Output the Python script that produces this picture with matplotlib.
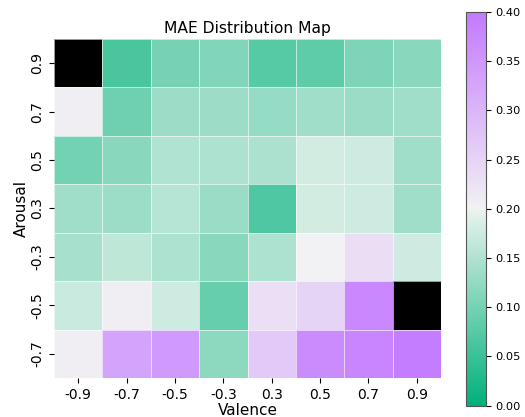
import numpy as np
import matplotlib
matplotlib.use("Agg")
import matplotlib.pyplot as plt
import seaborn as sns

valence = ["-0.9", "-0.7", "-0.5", "-0.3", "0.3", "0.5", "0.7", "0.9"]
arousal = ["0.9", "0.7", "0.5", "0.3", "-0.3", "-0.5", "-0.7"]

mae_09 = [np.nan, 0.064, 0.100, 0.109, 0.074, 0.081, 0.107, 0.116]
mae_07 = [0.206, 0.094, 0.134, 0.134, 0.128, 0.137, 0.131, 0.137]
mae_05 = [0.099, 0.117, 0.150, 0.148, 0.146, 0.179, 0.175, 0.137]
mae_03 = [0.137, 0.132, 0.156, 0.131, 0.068, 0.179, 0.175, 0.136]
mae_m03 = [0.143, 0.161, 0.147, 0.117, 0.147, 0.201, 0.232, 0.175]
mae_m05 = [0.171, 0.206, 0.174, 0.088, 0.230, 0.249, 0.375, np.nan]
mae_m07 = [0.207, 0.330, 0.344, 0.120, 0.267, 0.371, 0.381, 0.394]

data = np.array([mae_09, mae_07, mae_05, mae_03, mae_m03, mae_m05, mae_m07])

cmap = sns.diverging_palette(150, 285, s=100, l=64, as_cmap=True)
cmap.set_bad("black")

fig = plt.figure(figsize=(5.25, 4.17), dpi=100)
ax = fig.add_axes([54/525, 1 - 378/417, 387/525, 339/417])
cax = fig.add_axes([465.5/525, 1 - 405.5/417, 20.5/525, 393.5/417])

sns.heatmap(data, ax=ax, cbar_ax=cax, cmap=cmap, vmin=0, vmax=0.4,
            linewidths=0.5, linecolor=(1, 1, 1, 0.6),
            xticklabels=valence, yticklabels=arousal)
ax.set_title("MAE Distribution Map", fontsize=11.2, pad=4)
ax.set_xlabel("Valence", fontsize=11, labelpad=1)
ax.set_ylabel("Arousal", fontsize=11, labelpad=1)
ax.tick_params(axis="both", labelsize=10)
ax.set_yticklabels(arousal, rotation=90, va="center")
ax.set_xticklabels(valence, rotation=0)
cax.tick_params(labelsize=8.2)
cax.set_yticks([0, 0.05, 0.1, 0.15, 0.2, 0.25, 0.3, 0.35, 0.4])
cax.set_yticklabels(["0.00", "0.05", "0.10", "0.15", "0.20", "0.25", "0.30", "0.35", "0.40"])
cbar = ax.collections[0].colorbar
cbar.outline.set_visible(True)
cbar.outline.set_linewidth(0.8)
cbar.outline.set_edgecolor("#555555")

fig.savefig("out.png", dpi=100)
